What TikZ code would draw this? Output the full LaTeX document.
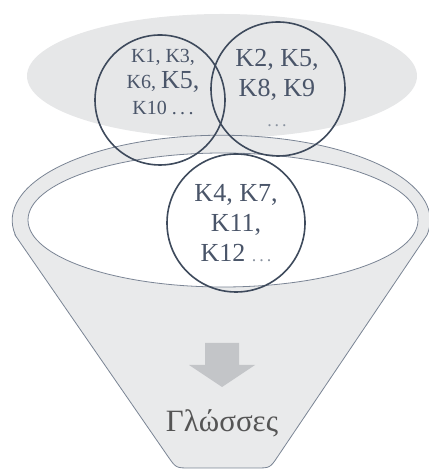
\documentclass[tikz,border=0pt]{standalone}
\usepackage{fontspec}
\setmainfont{Liberation Serif}

\definecolor{cloud}{HTML}{E6E7E8}
\definecolor{funnelgrey}{HTML}{E9EAEB}
\definecolor{rimline}{HTML}{7A8494}
\definecolor{slate}{HTML}{3E4A5C}
\definecolor{ink}{HTML}{4A5569}
\definecolor{dotgrey}{HTML}{8A93A0}
\definecolor{arrowgrey}{HTML}{C3C5C8}
\definecolor{labelgrey}{HTML}{555555}

\begin{document}
\begin{tikzpicture}[x=1pt,y=1pt,
  ring/.style={circle,draw=slate,line width=1.6pt,minimum size=#1,inner sep=0pt},
  keys/.style={text=ink,align=center,inner sep=0pt,font=\fontsize{26}{30}\selectfont},
  smallkeys/.style={keys,font=\fontsize{20}{26}\selectfont}]

  \useasboundingbox (0,0) rectangle (428,470);

  \fill[cloud] (222,394) ellipse[x radius=195pt,y radius=62pt];

  % funnel body and rim
  \filldraw[fill=funnelgrey,draw=rimline,line width=0.8pt]
    (15,235) -- (168,13.5) .. controls (176,2) .. (190,2) -- (256,2)
    .. controls (270,2) .. (277.8,13.6) -- (427,235)
    arc[start angle=-10,end angle=190,x radius=209pt,y radius=85pt] -- cycle;
  \filldraw[fill=white,draw=rimline,line width=0.8pt] (223,250) ellipse[x radius=195pt,y radius=67pt];

  \fill[arrowgrey] (205,127) -- (239,127) -- (239,105) -- (255,105) -- (222,83)
    -- (189,105) -- (205,105) -- cycle;
  \node[text=labelgrey,font=\fontsize{31}{32}\selectfont,anchor=base] (lang) at (222,38) {Γλώσσες};

  \node[ring=130pt] (c1) at (160,370) {};
  \node[ring=134pt] (c2) at (278,381) {};
  \node[ring=138pt] (c3) at (236,247) {};

  \node[smallkeys] (k1) at (163,388) {K1, K3,\\K6, {\fontsize{26}{26}\selectfont K5,}\\K10 .\,.\,.};
  \node[keys] (k2) at (277,382) {K2, K5,\\K8, K9\\{\color{dotgrey}\fontsize{18}{30}\selectfont .\,.\,.}};
  \node[keys] (k3) at (236,247) {K4, K7,\\K11,\\K12 {\color{dotgrey}\fontsize{18}{30}\selectfont .\,.\,.}};

\end{tikzpicture}
\end{document}
